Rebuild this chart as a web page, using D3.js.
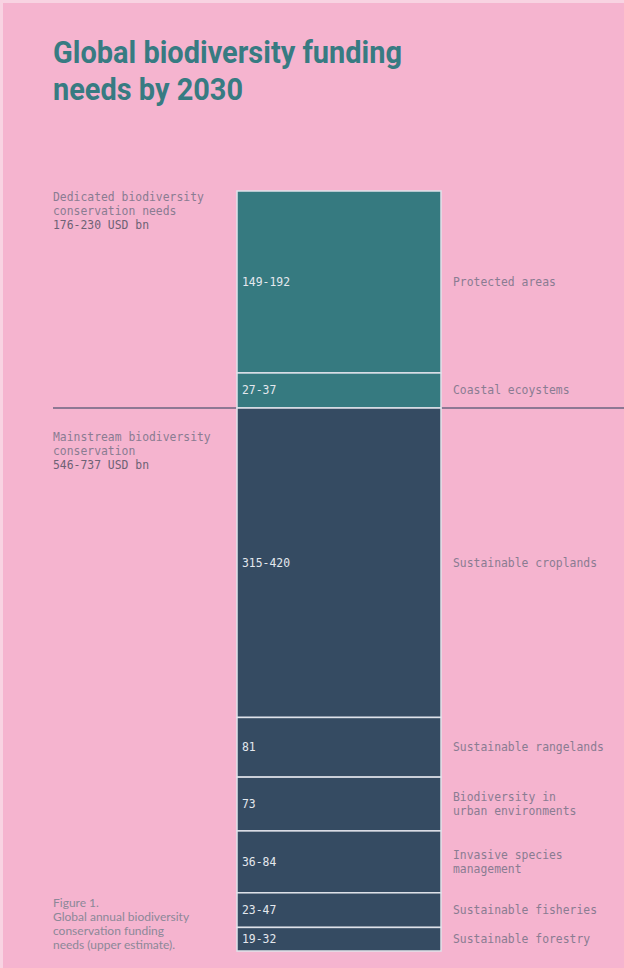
<!DOCTYPE html>
<html>
<head>
<meta charset="utf-8">
<script src="https://cdn.jsdelivr.net/npm/d3@7"></script>
<style>
  body { margin: 0; background: #f8d3e2; }
  svg { display: block; }
</style>
</head>
<body>
<div id="canvas"></div>
<script>
// data, upper estimates drive the heights
var categories = ['Protected areas', 'Coastal ecoystems', 'Sustainable croplands',
    'Sustainable rangelands', 'Biodiversity in\nurban environments',
    'Invasive species\nmanagement', 'Sustainable fisheries', 'Sustainable forestry'];
var groups = ['dedicated', 'dedicated', 'mainstream', 'mainstream', 'mainstream',
    'mainstream', 'mainstream', 'mainstream'];
var lower = [149, 27, 315, 81, 73, 36, 23, 19];
var upper = [192, 37, 420, 81, 73, 84, 47, 32];
var groupNames = ['dedicated', 'mainstream'];
var groupLabels = ['Dedicated biodiversity\nconservation needs', 'Mainstream biodiversity\nconservation'];
var groupRanges = ['176-230 USD bn', '546-737 USD bn'];
var caption = ['Figure 1.', 'Global annual biodiversity', 'conservation funding', 'needs (upper estimate).'];

var W = 624, H = 968;
var colors = {dedicated: '#367a80', mainstream: '#354b62'};
var mono = '"DejaVu Sans Mono", monospace';
var monoSize = '11.4px';

var svg = d3.select('#canvas').append('svg')
    .attr('width', W).attr('height', H);

svg.append('rect').attr('x', 3).attr('y', 3)
    .attr('width', W - 3).attr('height', H - 3)
    .attr('fill', '#f5b4cf');

// title
var title = svg.append('g').attr('fill', '#377b82')
    .style('font-family', 'Roboto, sans-serif').style('font-weight', 700)
    .style('font-size', '31px');
title.append('text').attr('x', 53).attr('y', 63)
    .attr('textLength', 349).attr('lengthAdjust', 'spacingAndGlyphs')
    .text('Global biodiversity funding');
title.append('text').attr('x', 53).attr('y', 100)
    .attr('textLength', 190).attr('lengthAdjust', 'spacingAndGlyphs')
    .text('needs by 2030');

// build rows with cumulative offsets per group
var rows = categories.map(function(c, i) {
    return {cat: c, group: groups[i], lo: lower[i], hi: upper[i]};
});
var totals = {};
groupNames.forEach(function(g) { totals[g] = 0; });
rows.forEach(function(r) {
    r.y0 = totals[r.group];
    totals[r.group] += r.hi;
    r.y1 = totals[r.group];
});

// each section gets its own vertical scale (the original is not to one scale)
var yScales = {
    dedicated: d3.scaleLinear().domain([0, totals.dedicated]).range([191, 408]),
    mainstream: d3.scaleLinear().domain([0, totals.mainstream]).range([408, 951])
};
var x = d3.scaleBand().domain(['bar']).range([237, 441]);

// divider between the two groups
var divY = yScales.mainstream(0);
svg.append('line').attr('x1', 53).attr('x2', W)
    .attr('y1', divY).attr('y2', divY)
    .attr('stroke', '#6b6580').attr('stroke-width', 1.5);

var seg = svg.selectAll('.seg').data(rows).enter().append('g').attr('class', 'seg');

seg.append('rect')
    .attr('x', x('bar'))
    .attr('width', x.bandwidth())
    .attr('y', function(d) { return yScales[d.group](d.y0); })
    .attr('height', function(d) { return yScales[d.group](d.y1) - yScales[d.group](d.y0); })
    .attr('fill', function(d) { return colors[d.group]; })
    .attr('stroke', '#dfe2ea').attr('stroke-width', 1.5);

seg.append('text')
    .attr('x', x('bar') + 5)
    .attr('y', function(d) { return (yScales[d.group](d.y0) + yScales[d.group](d.y1)) / 2; })
    .attr('dy', '0.35em')
    .attr('fill', '#e4e8ee')
    .style('font-family', mono).style('font-size', monoSize)
    .text(function(d) { return d.lo === d.hi ? d.lo : d.lo + '-' + d.hi; });

// category labels on the right
seg.append('text')
    .attr('fill', '#8a7c92')
    .style('font-family', mono).style('font-size', monoSize)
    .each(function(d) {
        var lines = d.cat.split('\n');
        var cy = (yScales[d.group](d.y0) + yScales[d.group](d.y1)) / 2;
        var t = d3.select(this);
        lines.forEach(function(l, k) {
            t.append('tspan').attr('x', 453)
                .attr('y', cy + (k - (lines.length - 1) / 2) * 14.5)
                .attr('dy', '0.35em').text(l);
        });
    });

// group labels on the left
groupNames.forEach(function(g, i) {
    var top = yScales[g](0) + (i === 0 ? 6 : 29);
    var t = svg.append('text').style('font-family', mono).style('font-size', monoSize);
    var lines = groupLabels[i].split('\n');
    lines.forEach(function(l, k) {
        t.append('tspan').attr('x', 53).attr('y', top + k * 14)
            .attr('dy', '0.35em').attr('fill', '#8a7c92').text(l);
    });
    t.append('tspan').attr('x', 53).attr('y', top + lines.length * 14)
        .attr('dy', '0.35em').attr('fill', '#6e6275').text(groupRanges[i]);
});

// figure caption
var cap = svg.append('text').attr('fill', '#8c8898')
    .style('font-family', 'Lato, sans-serif').style('font-size', '12px');
caption.forEach(function(l, k) {
    cap.append('tspan').attr('x', 53).attr('y', 903 + k * 14)
        .attr('dy', '0.35em').text(l);
});
</script>
</body>
</html>
